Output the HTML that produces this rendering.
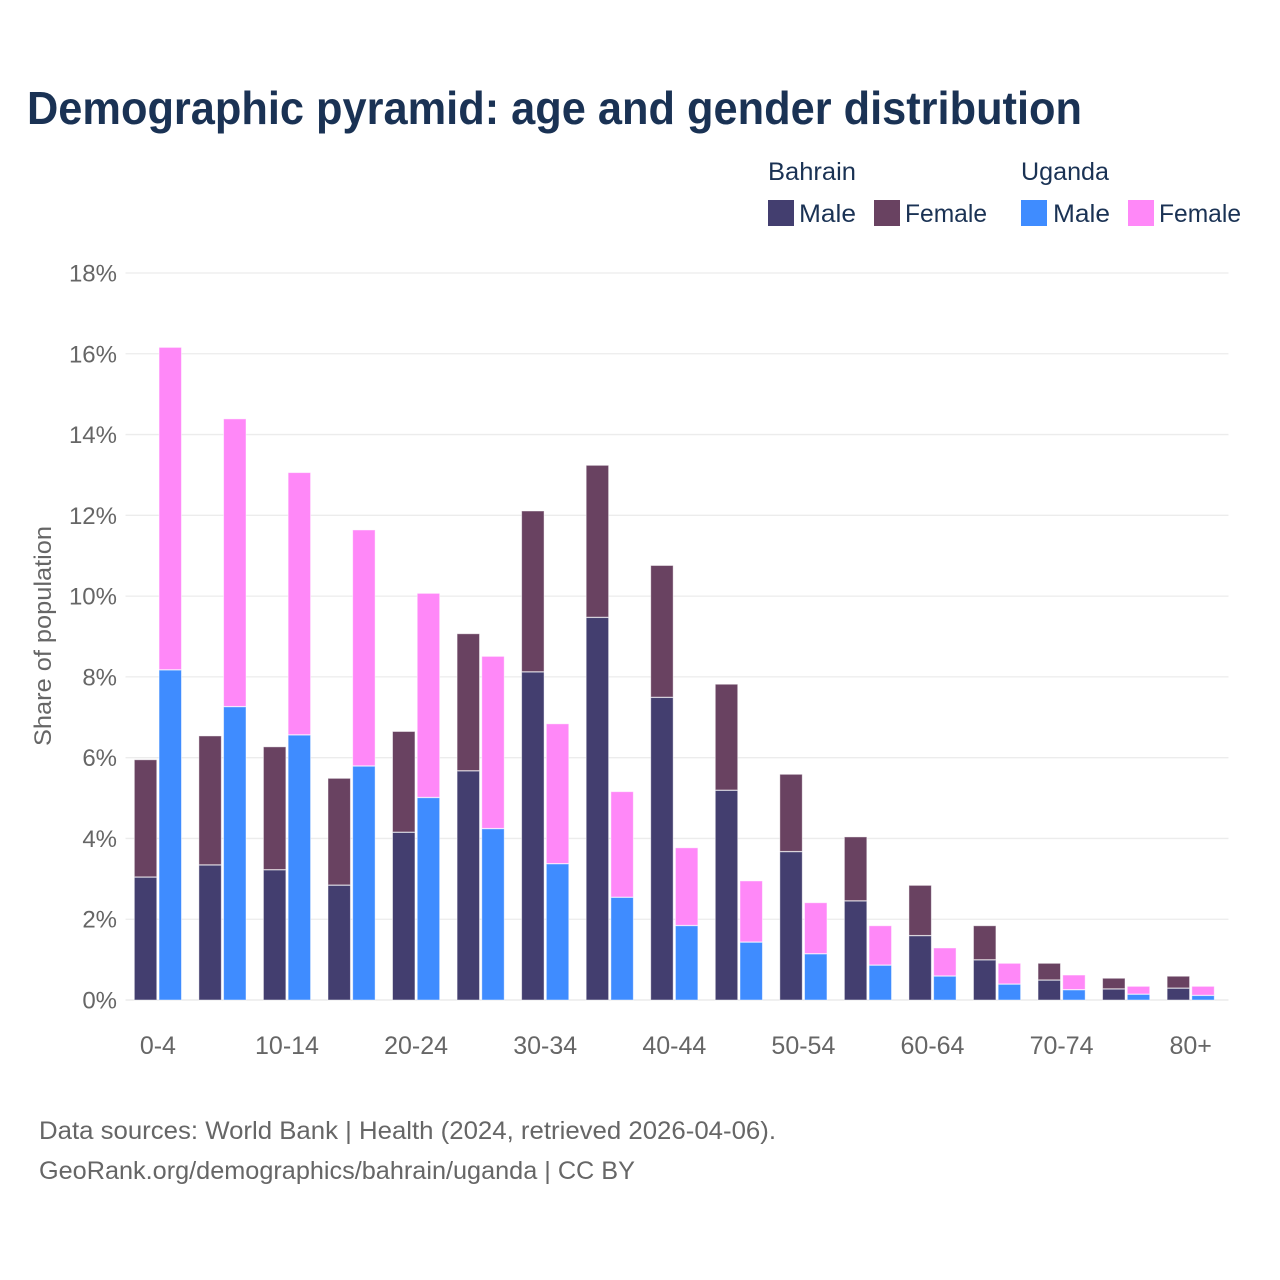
<!DOCTYPE html>
<html lang="en">
<head>
<meta charset="utf-8">
<title>Demographic pyramid: age and gender distribution</title>
<style>
html,body{margin:0;padding:0;background:#fff;width:1280px;height:1280px;overflow:hidden}
svg{display:block}
text{font-family:"Liberation Sans",sans-serif}
</style>
</head>
<body>
<svg id="chart" xmlns="http://www.w3.org/2000/svg" width="1280" height="1280" viewBox="0 0 1280 1280">
  <rect x="0" y="0" width="1280" height="1280" fill="#ffffff"/>
  <text x="27" y="124" font-size="46" font-weight="700" fill="#1a3254" textLength="1055" lengthAdjust="spacingAndGlyphs">Demographic pyramid: age and gender distribution</text>

  <g font-size="25" fill="#1a3254">
    <text x="768" y="180" textLength="88" lengthAdjust="spacingAndGlyphs">Bahrain</text>
    <text x="1021" y="180" textLength="88" lengthAdjust="spacingAndGlyphs">Uganda</text>
    <rect x="768" y="200" width="26" height="26" fill="#433e6f"/>
    <text x="799" y="222" textLength="57" lengthAdjust="spacingAndGlyphs">Male</text>
    <rect x="874" y="200" width="26" height="26" fill="#694261"/>
    <text x="905" y="222" textLength="82" lengthAdjust="spacingAndGlyphs">Female</text>
    <rect x="1021" y="200" width="26" height="26" fill="#3f8cff"/>
    <text x="1053" y="222" textLength="57" lengthAdjust="spacingAndGlyphs">Male</text>
    <rect x="1128" y="200" width="26" height="26" fill="#ff88f8"/>
    <text x="1159" y="222" textLength="82" lengthAdjust="spacingAndGlyphs">Female</text>
  </g>

  <g id="grid"></g>
  <g id="bars"></g>
  <g id="yticks"></g>
  <g id="xticks"></g>

  <text transform="translate(51,746) rotate(-90)" x="0" y="0" font-size="24" fill="#666666" textLength="220" lengthAdjust="spacingAndGlyphs">Share of population</text>

  <text x="39" y="1139" font-size="25" fill="#666666" textLength="737" lengthAdjust="spacingAndGlyphs">Data sources: World Bank | Health (2024, retrieved 2026-04-06).</text>
  <text x="39" y="1179" font-size="25" fill="#666666" textLength="596" lengthAdjust="spacingAndGlyphs">GeoRank.org/demographics/bahrain/uganda | CC BY</text>
</svg>
<script>
var ageGroups = ["0-4","5-9","10-14","15-19","20-24","25-29","30-34","35-39","40-44","45-49","50-54","55-59","60-64","65-69","70-74","75-79","80+"];
var xTickLabels = ["0-4","10-14","20-24","30-34","40-44","50-54","60-64","70-74","80+"];
var yTickValues = [0,2,4,6,8,10,12,14,16,18];
var bahrainMale = [3.05,3.35,3.23,2.85,4.16,5.68,8.13,9.48,7.50,5.20,3.68,2.46,1.60,1.00,0.50,0.28,0.30];
var bahrainFemale = [2.91,3.20,3.05,2.65,2.50,3.40,3.99,3.77,3.27,2.63,1.92,1.59,1.25,0.85,0.42,0.27,0.30];
var ugandaMale = [8.18,7.27,6.57,5.80,5.02,4.25,3.38,2.55,1.85,1.44,1.15,0.87,0.60,0.40,0.26,0.15,0.12];
var ugandaFemale = [7.99,7.13,6.50,5.85,5.06,4.27,3.47,2.62,1.93,1.52,1.27,0.98,0.70,0.52,0.37,0.20,0.23];

var NS = "http://www.w3.org/2000/svg";
var plotLeft = 125.5, plotRight = 1228.5, plotBottom = 1000, plotTop = 273;
var yMax = 18, firstCenter = 157.9, bandStep = 64.55, barWidth = 22.4, barGap = 1.15;

function yScale(v){ return plotBottom - (v / yMax) * (plotBottom - plotTop); }
function xScale(i){ return firstCenter + i * bandStep; }

function make(tag, attrs, parent){
  var el = document.createElementNS(NS, tag);
  for (var k in attrs) el.setAttribute(k, attrs[k]);
  parent.appendChild(el);
  return el;
}

var gridLayer = document.getElementById("grid");
var yTickLayer = document.getElementById("yticks");
yTickValues.forEach(function(v){
  var line = make("line", {x1:plotLeft, x2:plotRight, y1:yScale(v), y2:yScale(v), stroke:"#ececec", "stroke-width":v === 0 ? 1.6 : 1.3}, gridLayer);
  
  
  var label = make("text", {x:117, y:yScale(v) + 8.5, "text-anchor":"end", "font-size":24, fill:"#666666"}, yTickLayer);
  label.textContent = v + "%";
  
  
});

var xTickLayer = document.getElementById("xticks");
ageGroups.forEach(function(group, i){
  if (xTickLabels.indexOf(group) < 0) return;
  var label = make("text", {x:xScale(i), y:1054, "text-anchor":"middle", "font-size":25, fill:"#666666"}, xTickLayer);
  label.textContent = group;
  
  
});

var barLayer = document.getElementById("bars");
function drawSegment(x, base, value, fill){
  var top = yScale(base + value) + 0.5;
  var rect = make("rect", {x:x, y:top, width:barWidth, height:yScale(base) - top, fill:fill, stroke:"#ffffff", "stroke-opacity":0.5, "stroke-width":0.9}, barLayer);
  
  
}
ageGroups.forEach(function(group, i){
  var leftX = xScale(i) - barGap - barWidth;
  var rightX = xScale(i) + barGap;
  drawSegment(leftX, 0, bahrainMale[i], "#433e6f");
  drawSegment(leftX, bahrainMale[i], bahrainFemale[i], "#694261");
  drawSegment(rightX, 0, ugandaMale[i], "#3f8cff");
  drawSegment(rightX, ugandaMale[i], ugandaFemale[i], "#ff88f8");
});
</script>
</body>
</html>
